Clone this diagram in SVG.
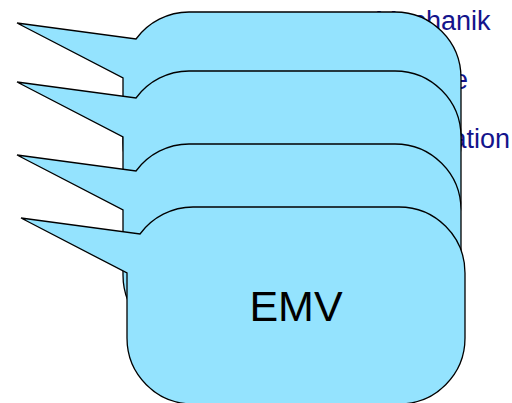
<svg xmlns="http://www.w3.org/2000/svg" xmlns:xlink="http://www.w3.org/1999/xlink" width="512" height="403" viewBox="0 0 512 403">
  <style>
    .bubble { fill: #94e3fe; stroke: #000; stroke-width: 1.3; stroke-linejoin: miter; }
    .bg { font-family: "Liberation Sans", Arial, sans-serif; font-size: 27px; fill: #14148c; }
    .label { font-family: "Liberation Sans", Arial, sans-serif; font-size: 43px; fill: #000; text-anchor: middle; }
  </style>
  <defs>
    <path id="bubbleShape" d="M 136,39 A 66 66 0 0 1 189,12 L 395,12 A 66 66 0 0 1 461,78 L 461,143 A 66 66 0 0 1 395,209 L 189,209 A 66 66 0 0 1 123,143 L 123,78 L 17,23 Z"/>
  </defs>
  <g id="background-list">
    <text class="bg" x="375" y="30">Mechanik</text>
    <text class="bg" x="375" y="89">Energie</text>
    <text class="bg" x="375" y="148">Information</text>
  </g>
  <g id="bubble1">
    <use xlink:href="#bubbleShape" class="bubble"/>
  </g>
  <g id="bubble2" transform="translate(0,59)">
    <use xlink:href="#bubbleShape" class="bubble"/>
  </g>
  <g id="bubble3" transform="translate(0,132)">
    <use xlink:href="#bubbleShape" class="bubble"/>
  </g>
  <g id="bubble4" transform="translate(4,195)">
    <use xlink:href="#bubbleShape" class="bubble"/>
    <text class="label" x="292" y="126">EMV</text>
  </g>
</svg>
